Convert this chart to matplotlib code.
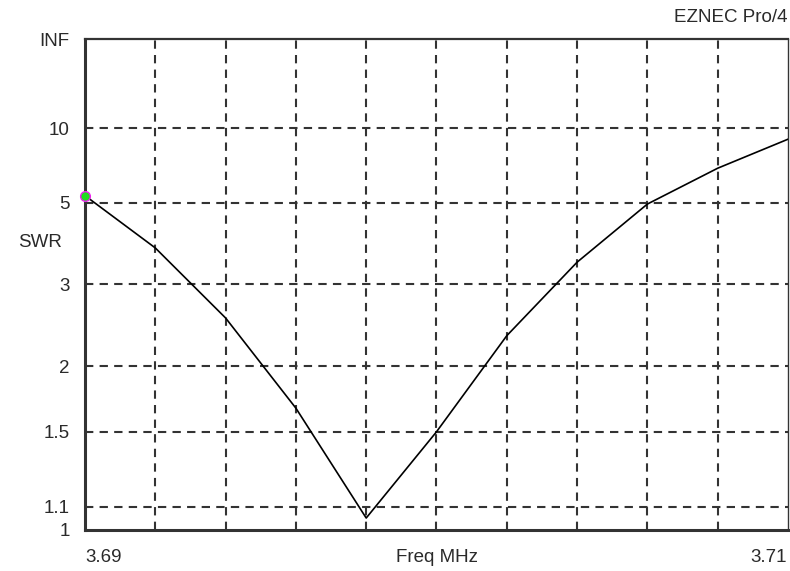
import numpy as np
import matplotlib.pyplot as plt

plt.rcParams['font.family'] = ['Liberation Sans', 'DejaVu Sans']

# SWR sweep, 3.69 - 3.71 MHz
freq = [3.690, 3.692, 3.694, 3.696, 3.698, 3.700, 3.702, 3.704, 3.706, 3.708, 3.710]
swr = [5.27, 3.70, 2.52, 1.66, 1.05, 1.50, 2.31, 3.40, 4.95, 6.6, 8.8]

swr_ticks = [1, 1.1, 1.5, 2, 3, 5, 10]
swr_tick_labels = ['1', '1.1', '1.5', '2', '3', '5', '10']
SWR_INF = 1e12


# y axis is linear in reflection coefficient
def to_rho(s):
    s = np.asarray(s, dtype=float)
    return 1.0 - 2.0 / (s + 1.0)


def from_rho(r):
    r = np.asarray(r, dtype=float)
    with np.errstate(divide='ignore', invalid='ignore'):
        return (1.0 + r) / np.clip(1.0 - r, 1e-12, None)


ink = '#333333'

fig = plt.figure(figsize=(7.9, 5.71), dpi=100)
ax = fig.add_axes([85 / 790, 41 / 571, 703 / 790, 491 / 571])
ax.set_yscale('function', functions=(to_rho, from_rho))
ax.set_xlim(3.690, 3.710)
ax.set_ylim(1, SWR_INF)

# dashed grid
for x in np.arange(3.692, 3.7095, 0.002):
    ax.axvline(x, color=ink, lw=1.5, ls=(0, (4, 3)), zorder=1)
for y in swr_ticks[1:]:
    ax.axhline(y, color=ink, lw=1.5, ls=(0, (4, 3)), zorder=1)

ax.plot(freq, swr, color='black', lw=1.2, zorder=3)
ax.plot(freq[0], swr[0], 'o', ms=7, mfc='#22dd22', mec='#ee22ee', mew=1.0,
        clip_on=False, zorder=4)

txt = dict(fontsize=13.5, color='#2a2a2a')

ax.set_xticks([])
ax.set_yticks(swr_ticks + [SWR_INF])
ax.set_yticklabels(swr_tick_labels + ['INF'], **txt)
ax.tick_params(axis='y', length=0, pad=11)

for side in ['left', 'bottom']:
    ax.spines[side].set_linewidth(2.2)
    ax.spines[side].set_color(ink)
ax.spines['top'].set_linewidth(1.6)
ax.spines['top'].set_color(ink)
ax.spines['right'].set_linewidth(1.0)
ax.spines['right'].set_color(ink)

fig.text(40 / 790, 1 - 243 / 571, 'SWR', ha='center', va='center', **txt)
fig.text(85 / 790, 1 - 558 / 571, '3.69', ha='left', va='center', **txt)
fig.text(437 / 790, 1 - 558 / 571, 'Freq MHz', ha='center', va='center', **txt)
fig.text(787 / 790, 1 - 558 / 571, '3.71', ha='right', va='center', **txt)
fig.text(787 / 790, 1 - 18 / 571, 'EZNEC Pro/4', ha='right', va='center', **txt)

fig.savefig('out.png', dpi=100)
